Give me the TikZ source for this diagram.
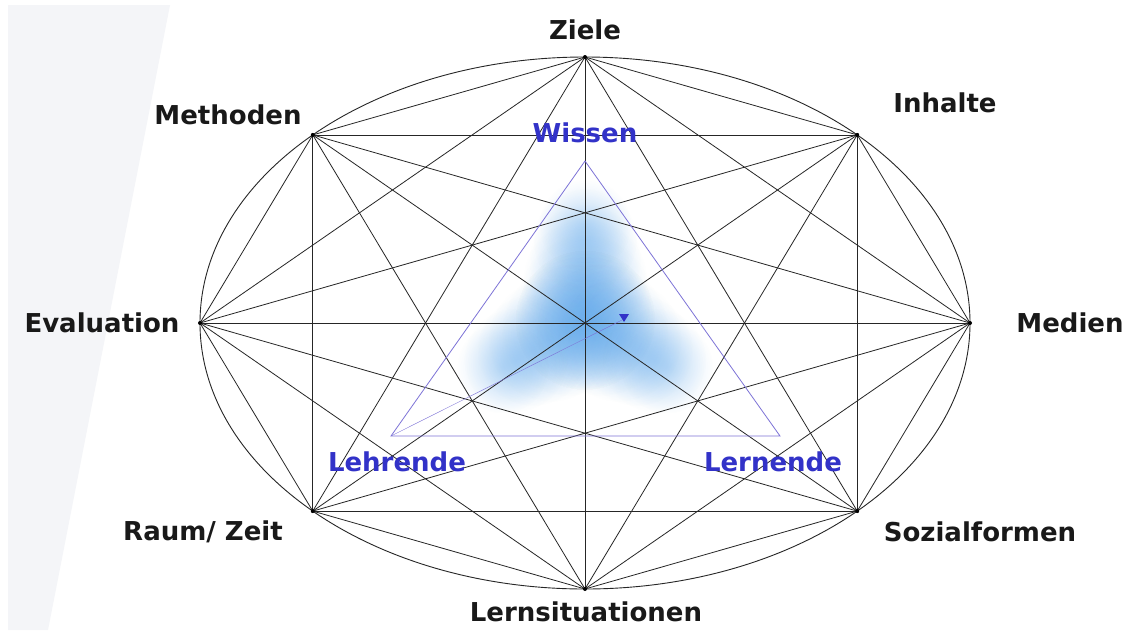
\documentclass[tikz,border=0pt]{standalone}
\usepackage{fontspec}
\setmainfont{DejaVu Sans}
\usetikzlibrary{positioning,calc,fadings}
\definecolor{labelblue}{RGB}{50,50,200}
\definecolor{trianglepurple}{RGB}{125,115,215}
\definecolor{blobblue}{RGB}{80,160,235}
\definecolor{bandgray}{RGB}{244,245,248}
\tikzfading[name=softblob, inner color=transparent!0, outer color=transparent!100]

\begin{document}
\begin{tikzpicture}[x=1pt, y=-1pt,
    chord/.style={draw=black!85, line width=0.8pt},
    rim/.style={draw=black!85, line width=0.9pt},
    aspect/.style={font=\bfseries\fontsize{26}{30}\selectfont, text=black!90, inner sep=0pt},
    pole/.style={font=\bfseries\fontsize{26}{30}\selectfont, text=labelblue, inner sep=0pt},
    tri/.style={draw=trianglepurple, line width=0.8pt},
    glow/.style={fill=blobblue, path fading=softblob, fill opacity=0.25}
]
    \useasboundingbox (0,0) rectangle (1132,630);
    \fill[white] (0,0) rectangle (1132,630);
    \fill[bandgray] (8,5) -- (170,5) -- (48,630) -- (8,630) -- cycle;

    % blue glow in the middle
    \foreach \a in {90,210,330}
        \foreach \d/\r in {0/70,20/66,40/62,60/56,80/52,95/46}
            \fill[glow] ({585+\d*cos(\a)}, {320-\d*sin(\a)}) circle (\r);

    % points on the ellipse
    \foreach \i in {0,...,7}
        \coordinate (p\i) at ({585+385*cos(45*\i)}, {323-266*sin(45*\i)});

    \draw[rim] (585,323) ellipse (385 and 266);
    \foreach \i in {0,...,6} {
        \pgfmathtruncatemacro\jstart{\i+1}
        \foreach \j in {\jstart,...,7}
            \draw[chord] (p\i) -- (p\j);
    }
    \foreach \i in {0,...,7}
        \fill (p\i) circle (2);

    % triangle
    \coordinate (twissen) at (585,161);
    \coordinate (tlehr) at (391,436);
    \coordinate (tlern) at (780,436);
    \coordinate (tip) at (624,319);
    \draw[tri] (twissen) -- (tlehr) -- (tlern) -- cycle;
    \draw[trianglepurple, line width=0.4pt] (tlehr) -- (tip);
    \fill[labelblue] ($(tip)+(-5,-5)$) -- ($(tip)+(5,-5)$) -- ($(tip)+(0,3)$) -- cycle;

    \node[pole] (wissen) at (585,133) {Wissen};
    \node[pole] (lehrende) at (397,462) {Lehrende};
    \node[pole] (lernende) at (773,462) {Lernende};

    \node[aspect] (ziele) at (585,30) {Ziele};
    \node[aspect] (inhalte) at (945,103) {Inhalte};
    \node[aspect] (methoden) at (228,115) {Methoden};
    \node[aspect] (evaluation) at (102,323) {Evaluation};
    \node[aspect] (medien) at (1070,323) {Medien};
    \node[aspect] (raumzeit) at (203,532) {Raum/ Zeit};
    \node[aspect] (sozial) at (980,532) {Sozialformen};
    \node[aspect] (lernsit) at (586,612) {Lernsituationen};
\end{tikzpicture}
\end{document}
